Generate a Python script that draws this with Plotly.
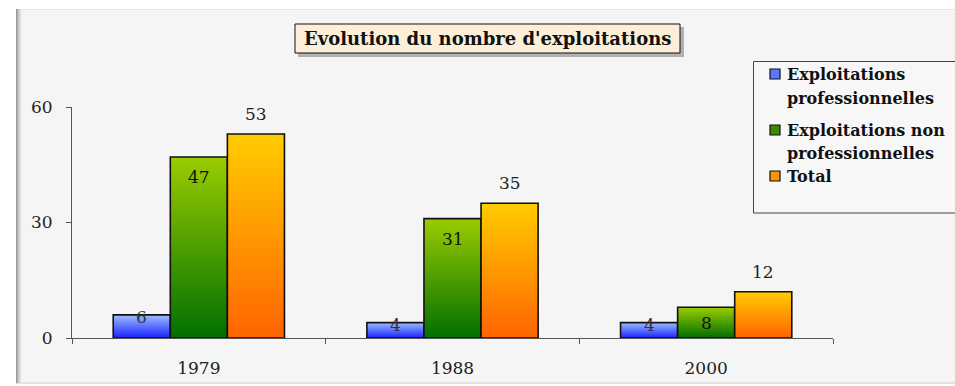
import plotly.graph_objects as go

# ---- data ----
years = ["1979", "1988", "2000"]
series_names = ["Exploitations professionnelles",
                "Exploitations non professionnelles",
                "Total"]
pro = [6, 4, 4]
non_pro = [47, 31, 8]
total = [53, 35, 12]
y_ticks = [0, 30, 60]

# ---- styling ----
W, H = 955, 386
PL, PR, PT, PB = 72, 833, 107, 338          # plot area in pixels
Y_MAX = 60
SERIF = "DejaVu Serif"
gradients = [  # (bottom colour, top colour)
    ("#1a22ff", "#9dbdff"),
    ("#006f00", "#9acc00"),
    ("#ff6400", "#ffcc00"),
]
legend_swatch = ["#5a78ff", "#3f8a00", "#ff9200"]
BAR_W = 0.225


def fx(px):
    return (px - PL) / (PR - PL)


def fy(py):
    return (PB - py) / (PB - PT)


fig = go.Figure()

values = [pro, non_pro, total]
for k, vals in enumerate(values):
    bottom, top = gradients[k]
    for i, v in enumerate(vals):
        x0 = i + (k - 1) * BAR_W - BAR_W / 2
        x1 = x0 + BAR_W
        fig.add_trace(go.Scatter(
            x=[x0, x0, x1, x1, x0], y=[0, v, v, 0, 0],
            mode="lines", fill="toself",
            fillgradient=dict(type="vertical",
                              colorscale=[[0, bottom], [1, top]]),
            line=dict(color="#111111", width=1.6),
            name=series_names[k], showlegend=False, hoverinfo="skip",
        ))

# value labels
px_per_unit = (PB - PT) / Y_MAX
annotations = []
for k, vals in enumerate(values):
    for i, v in enumerate(vals):
        xc = i + (k - 1) * BAR_W
        if k == 0:
            shift, col = -2, "#333333"
        elif k == 1:
            shift, col = -min(20, v * px_per_unit / 2), "#111111"
        else:
            shift, col = 20, "#222222"
        annotations.append(dict(
            x=xc, y=v, xref="x", yref="y", text=str(v), showarrow=False,
            yshift=shift, yanchor="middle", xanchor="center",
            font=dict(family=SERIF, size=17, color=col),
        ))

# title box
annotations.append(dict(
    x=fx(487.5), y=fy(38.5), xref="paper", yref="paper",
    text="<b>Evolution du nombre d'exploitations</b>", showarrow=False,
    xanchor="center", yanchor="middle",
    font=dict(family=SERIF, size=18, color="#111111"),
))

# legend text
legend_lines = [
    (74, "Exploitations"), (98, "professionnelles"),
    (130, "Exploitations non"), (153, "professionnelles"),
    (176, "Total"),
]
for py, txt in legend_lines:
    annotations.append(dict(
        x=fx(785), y=fy(py), xref="paper", yref="paper",
        text="<b>" + txt + "</b>", showarrow=False,
        xanchor="left", yanchor="middle",
        font=dict(family=SERIF, size=16, color="#111111"),
    ))

shapes = []
# panel background with soft left edge
shapes.append(dict(type="rect", xref="paper", yref="paper", layer="below",
                   x0=fx(16), x1=fx(965), y0=fy(9), y1=fy(383),
                   fillcolor="#f5f5f5", line=dict(width=0)))
shapes.append(dict(type="line", xref="paper", yref="paper", layer="below",
                   x0=fx(16), x1=fx(965), y0=fy(9.5), y1=fy(9.5),
                   line=dict(color="#e6e6e6", width=1)))
shapes.append(dict(type="line", xref="paper", yref="paper", layer="below",
                   x0=fx(16), x1=fx(965), y0=fy(383), y1=fy(383),
                   line=dict(color="#e2e2e2", width=2)))
edge_cols = ["#9a9a9a", "#b0b0b0", "#c4c4c4", "#d6d6d6", "#e4e4e4", "#eeeeee"]
for j, c in enumerate(edge_cols):
    shapes.append(dict(type="rect", xref="paper", yref="paper", layer="below",
                       x0=fx(16 + j), x1=fx(17 + j), y0=fy(9), y1=fy(383),
                       fillcolor=c, line=dict(width=0)))

# title frame with drop shadow
shapes.append(dict(type="rect", xref="paper", yref="paper", layer="below",
                   x0=fx(298), x1=fx(684), y0=fy(27), y1=fy(57),
                   fillcolor="rgba(0,0,0,0.28)", line=dict(width=0)))
shapes.append(dict(type="rect", xref="paper", yref="paper", layer="below",
                   x0=fx(295), x1=fx(680), y0=fy(24), y1=fy(53),
                   fillcolor="#fcefd7", line=dict(color="#111111", width=1)))

# legend frame and swatches
shapes.append(dict(type="rect", xref="paper", yref="paper", layer="below",
                   x0=fx(753.5), x1=fx(965), y0=fy(61.5), y1=fy(213),
                   fillcolor="#f7f7f7", line=dict(color="#444444", width=1)))
for py, c in zip([74, 130, 176], legend_swatch):
    shapes.append(dict(type="rect", xref="paper", yref="paper",
                       x0=fx(770), x1=fx(780), y0=fy(py - 5), y1=fy(py + 5),
                       fillcolor=c, line=dict(color="#111111", width=1.2)))

fig.update_layout(
    width=W, height=H,
    margin=dict(l=PL, r=W - PR, t=PT, b=H - PB, pad=0),
    paper_bgcolor="#ffffff",
    plot_bgcolor="rgba(0,0,0,0)",
    showlegend=False,
    annotations=annotations,
    shapes=shapes,
    xaxis=dict(
        range=[-0.5, 2.5], tickmode="array", tickvals=[0, 1, 2],
        ticktext=years, ticks="", showgrid=False, zeroline=False,
        showline=True, linecolor="#555555", linewidth=1,
        tickfont=dict(family=SERIF, size=17, color="#222222"),
        ticklabelstandoff=15, automargin=False,
        minor=dict(ticks="outside", tick0=0.5, dtick=1, ticklen=5,
                   tickcolor="#555555", tickwidth=1, showgrid=False),
        fixedrange=True,
    ),
    yaxis=dict(
        range=[0, Y_MAX], tickmode="array", tickvals=y_ticks,
        ticks="outside", ticklen=5, tickcolor="#555555",
        showgrid=False, zeroline=False,
        showline=True, linecolor="#555555", linewidth=1,
        tickfont=dict(family=SERIF, size=17, color="#222222"),
        ticklabelstandoff=10, automargin=False,
        fixedrange=True,
    ),
)

fig.write_html("out.html")
